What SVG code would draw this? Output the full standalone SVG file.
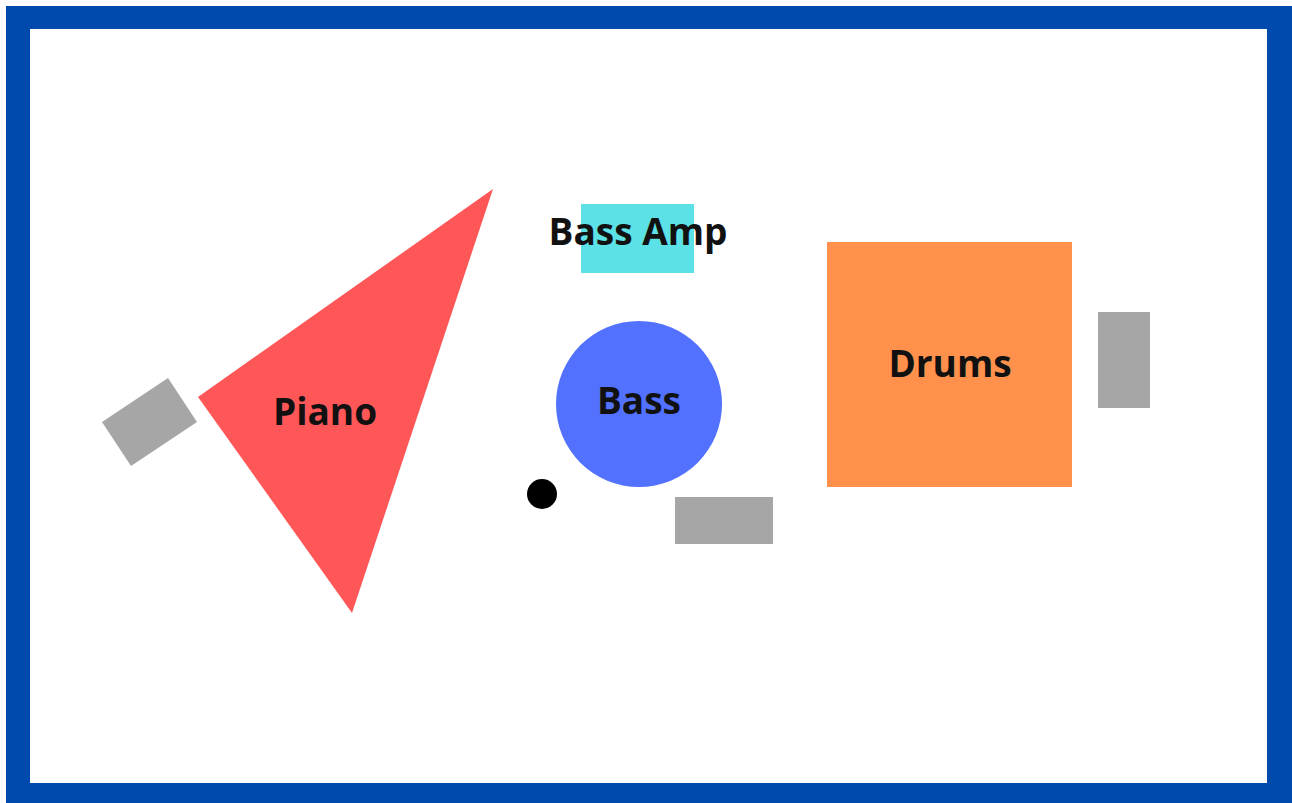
<svg xmlns="http://www.w3.org/2000/svg" width="1292" height="803" viewBox="0 0 1292 803">
<style>
.lbl{font-family:"Open Sans","Noto Sans","Liberation Sans",sans-serif;font-weight:700;font-size:37px;fill:#111;text-anchor:middle}
.mon{fill:#a6a6a6}
</style>
<rect x="6" y="6" width="1286" height="797" fill="#004aad"/>
<rect x="30" y="29" width="1237" height="754" fill="#ffffff"/>
<g id="piano-monitor"><polygon class="mon" points="102,422 168,378 197,422 131,466"/></g>
<g id="piano"><polygon points="493,189 198,397 352,613" fill="#ff5757"/><text class="lbl" x="325" y="425">Piano</text></g>
<g id="bass-amp"><rect x="581" y="204" width="113" height="69" fill="#5ce1e6"/><text class="lbl" x="638" y="245">Bass Amp</text></g>
<g id="bass"><circle cx="639" cy="404" r="83" fill="#5271ff"/><text class="lbl" x="639" y="414">Bass</text></g>
<g id="mic"><circle cx="542" cy="494" r="15" fill="#000"/></g>
<g id="bass-monitor"><rect class="mon" x="675" y="497" width="98" height="47"/></g>
<g id="drums"><rect x="827" y="242" width="245" height="245" fill="#ff914d"/><text class="lbl" x="950" y="377">Drums</text></g>
<g id="drum-monitor"><rect class="mon" x="1098" y="312" width="52" height="96"/></g>
<g id="connectors"></g>
</svg>
